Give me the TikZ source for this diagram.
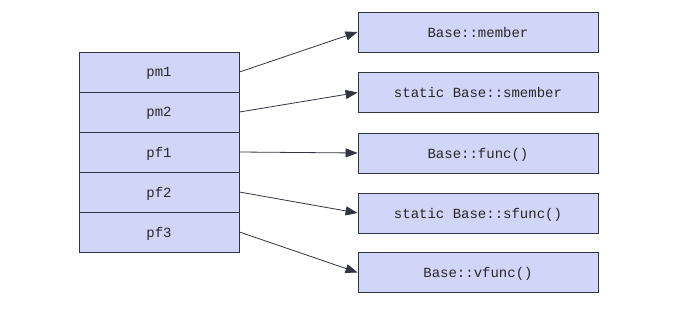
\documentclass[tikz,border=0pt]{standalone}
\usepackage{fontspec}
\setmonofont{Liberation Mono}
\usetikzlibrary{arrows.meta}
\definecolor{boxfill}{RGB}{209,213,247}
\definecolor{boxline}{RGB}{50,52,64}
\definecolor{txt}{RGB}{40,40,40}
\begin{document}
\begin{tikzpicture}[x=1pt,y=-1pt,
  cell/.style={draw=boxline,fill=boxfill,line width=0.9pt,minimum width=160pt,minimum height=40pt,inner sep=0pt,text depth=0pt,text=txt,font=\ttfamily\fontsize{14}{16}\selectfont},
  target/.style={draw=boxline,fill=boxfill,line width=0.9pt,minimum width=240pt,minimum height=40pt,inner sep=0pt,text depth=0pt,text=txt,font=\ttfamily\fontsize{14}{16}\selectfont},
  link/.style={draw=boxline,line width=0.8pt,-{Triangle[length=12pt,width=9pt]}}]
\useasboundingbox (0,0) rectangle (685,311);
\node[cell] (pm1) at (159,72) {pm1};
\node[cell] (pm2) at (159,112) {pm2};
\node[cell] (pf1) at (159,152) {pf1};
\node[cell] (pf2) at (159,192) {pf2};
\node[cell] (pf3) at (159,232) {pf3};
\node[target] (t1) at (478,32) {Base::member};
\node[target] (t2) at (478,92.5) {static Base::smember};
\node[target] (t3) at (478,153) {Base::func()};
\node[target] (t4) at (478,213) {static Base::sfunc()};
\node[target] (t5) at (478,272.5) {Base::vfunc()};
\draw[link] (pm1.east) -- (t1.west);
\draw[link] (pm2.east) -- (t2.west);
\draw[link] (pf1.east) -- (t3.west);
\draw[link] (pf2.east) -- (t4.west);
\draw[link] (pf3.east) -- (t5.west);
\end{tikzpicture}
\end{document}
